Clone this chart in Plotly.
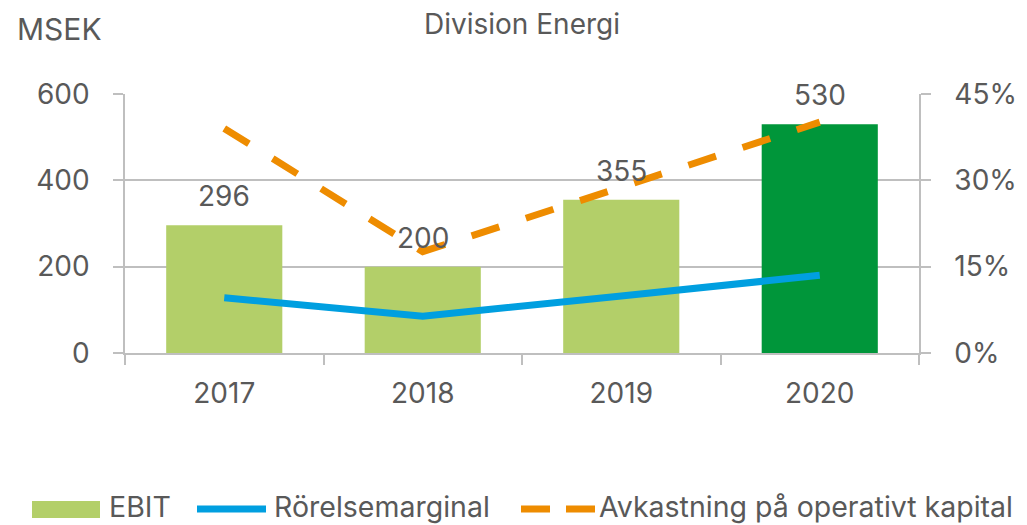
import plotly.graph_objects as go

years = ["2017", "2018", "2019", "2020"]
ebit = [296, 200, 355, 530]
ebit_colors = ["#B3CF69", "#B3CF69", "#B3CF69", "#00963A"]
rorelsemarginal = [0.096, 0.064, 0.099, 0.135]
avkastning = [0.39, 0.176, 0.288, 0.401]
legend_names = ["EBIT", "Rörelsemarginal", "Avkastning på operativt kapital"]

TXT = "#595959"
GRID = "#BFBFBF"
FONT = "Inter"
LGREEN = "#B3CF69"
BLUE = "#009FE0"
ORANGE = "#EE8C00"

# page has an 8px body margin; figure is sized to fill the rest of the window
OFF = 8
FW, FH = 1027 - OFF, 525 - OFF

fig = go.Figure()
fig.add_trace(go.Bar(
    x=years, y=ebit, name=legend_names[0], marker=dict(color=ebit_colors, line=dict(width=0)),
    yaxis="y", showlegend=False,
))
fig.add_trace(go.Scatter(
    x=years, y=rorelsemarginal, name=legend_names[1], mode="lines",
    line=dict(color=BLUE, width=7), yaxis="y2", showlegend=False,
))
fig.add_trace(go.Scatter(
    x=years, y=avkastning, name=legend_names[2], mode="lines",
    line=dict(color=ORANGE, width=7, dash="29px,28px"), yaxis="y2", showlegend=False,
))

for i, v in enumerate(ebit):
    fig.add_annotation(x=i, y=v, xref="x", yref="y", text=str(v), showarrow=False,
                       yshift=29, yanchor="middle", font=dict(family=FONT, size=28, color=TXT))

# plot area in window pixels
L, R = 125, 919
T, B = 94, 353
W, H = R - L, B - T
def px(x):
    return (x - L) / W
def py(y):
    return 1 - (y - T) / H

fig.add_annotation(x=px(15), y=py(29), xref="paper", yref="paper",
                   text="MSEK", showarrow=False, xanchor="left", yanchor="middle",
                   font=dict(family=FONT, size=30, color=TXT))
fig.add_annotation(x=0.5, y=py(24), xref="paper", yref="paper",
                   text="Division Energi", showarrow=False, xanchor="center", yanchor="middle",
                   font=dict(family=FONT, size=28, color=TXT))

# legend (drawn manually to match swatch sizes)
LY = 509
fig.add_shape(type="rect", xref="paper", yref="paper", x0=px(32), x1=px(100),
              y0=py(518), y1=py(501), fillcolor=LGREEN, line=dict(width=0))
fig.add_shape(type="line", xref="paper", yref="paper", x0=px(197), x1=px(266),
              y0=py(LY), y1=py(LY), line=dict(color=BLUE, width=7))
fig.add_shape(type="line", xref="paper", yref="paper", x0=px(521), x1=px(597),
              y0=py(LY), y1=py(LY), line=dict(color=ORANGE, width=7, dash="29px,16px"))
for name, x0 in zip(legend_names, [108, 273, 598]):
    fig.add_annotation(x=px(x0), y=py(506), xref="paper", yref="paper", text=name,
                       showarrow=False, xanchor="left", yanchor="middle", borderpad=0,
                       font=dict(family=FONT, size=28.5, color=TXT))

fig.update_layout(
    width=FW, height=FH,
    margin=dict(l=L - OFF, r=1027 - R, t=T - OFF, b=525 - B, autoexpand=False),
    paper_bgcolor="white", plot_bgcolor="white",
    bargap=0.415,
    showlegend=False,
    xaxis=dict(
        type="category", automargin=False,
        showline=True, linecolor=GRID, linewidth=1.5,
        ticks="outside", ticklen=10, tickcolor=GRID, tickwidth=1.5, tickson="boundaries",
        tickfont=dict(family=FONT, size=28, color=TXT), ticklabelstandoff=15,
        showgrid=False,
    ),
    yaxis=dict(
        range=[0, 600], dtick=200, showline=True, linecolor=GRID, linewidth=1.5,
        ticks="outside", ticklen=10, tickcolor=GRID, tickwidth=1.5, automargin=False,
        gridcolor=GRID, gridwidth=1.5, zeroline=False,
        tickfont=dict(family=FONT, size=28, color=TXT), ticklabelstandoff=18,
    ),
    yaxis2=dict(
        range=[0, 0.45], dtick=0.15, tickformat=".0%", overlaying="y", side="right",
        showline=True, linecolor=GRID, linewidth=1.5, automargin=False,
        ticks="outside", ticklen=10, tickcolor=GRID, tickwidth=1.5,
        showgrid=False, zeroline=False,
        tickfont=dict(family=FONT, size=28, color=TXT), ticklabelstandoff=18,
    ),
)

fig.write_html("out.html")
